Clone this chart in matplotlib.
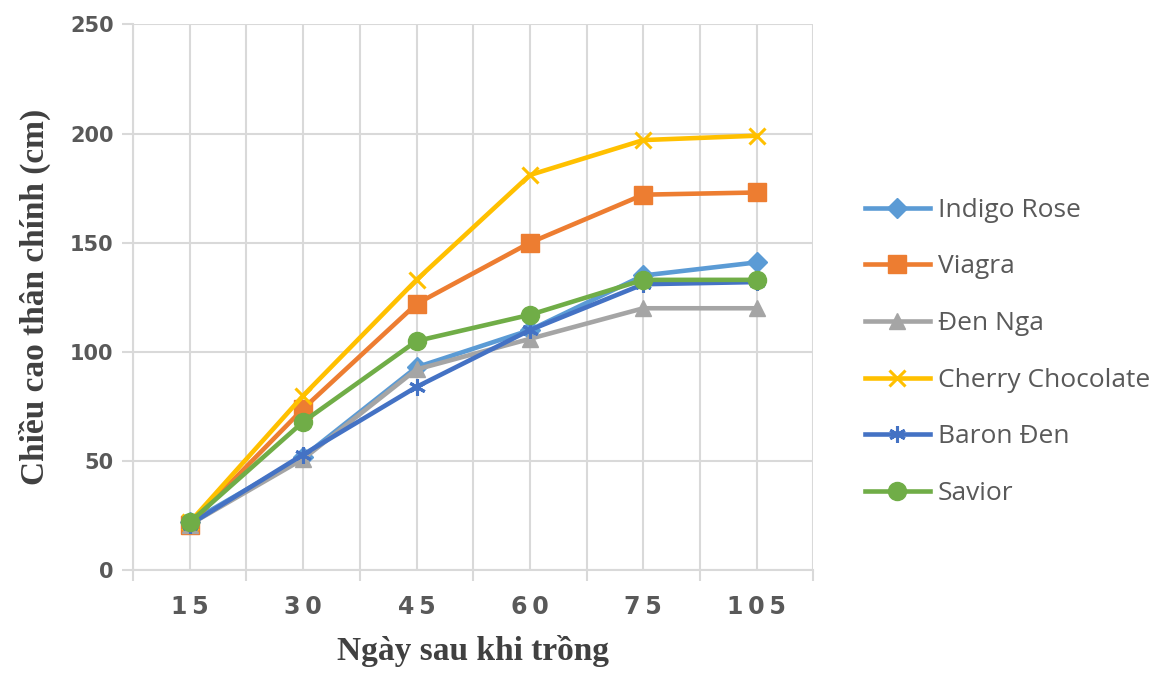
import matplotlib
matplotlib.use('Agg')
import matplotlib.pyplot as plt
import numpy as np

# Số ngày sau khi trồng (trục X dạng phân loại)
days = ['15', '30', '45', '60', '75', '105']

# Chiều cao thân chính (cm) theo giống
indigo_rose = [22, 52, 93, 110, 135, 141]
viagra = [21, 74, 122, 150, 172, 173]
den_nga = [21, 51, 92, 106, 120, 120]
cherry_chocolate = [22, 80, 133, 181, 197, 199]
baron_den = [21, 53, 84, 110, 131, 132]
savior = [22, 68, 105, 117, 133, 133]

series = [
    ('Indigo Rose', indigo_rose, '#5B9BD5', 'D', 10),
    ('Viagra', viagra, '#ED7D31', 's', 13),
    ('Đen Nga', den_nga, '#A5A5A5', '^', 12),
    ('Cherry Chocolate', cherry_chocolate, '#FFC000', 'x', 12),
    ('Baron Đen', baron_den, '#4472C4', (6, 2, 0), 12),
    ('Savior', savior, '#70AD47', 'o', 13),
]

fig = plt.figure(figsize=(11.67, 6.75), dpi=100)
ax = fig.add_axes([0.114, 0.155, 0.583, 0.809])

x = np.arange(len(days))
for name, vals, color, marker, ms in series:
    ax.plot(x, vals, color=color, linewidth=3.3, marker=marker, markersize=ms,
            markeredgewidth=2.2 if marker in ('x', (6, 2, 0)) else 1,
            markeredgecolor=color, label=name, solid_joinstyle='round')

ax.set_ylim(0, 250)
ax.set_yticks(np.arange(0, 251, 50))
ax.set_xlim(-0.5, len(days) - 0.5)
ax.set_xticks(x)
# nhãn trục X được giãn chữ
ax.set_xticklabels(['\u2009'.join(d) for d in days])
ax.set_xticks(np.arange(-0.5, len(days), 0.5), minor=True)

grid_color = '#D9D9D9'
ax.grid(True, which='both', axis='x', color=grid_color, linewidth=1.5)
ax.grid(True, which='major', axis='y', color=grid_color, linewidth=1.5)
ax.set_axisbelow(True)

for side in ('top', 'right'):
    ax.spines[side].set_visible(False)
for side in ('left', 'bottom'):
    ax.spines[side].set_color(grid_color)
    ax.spines[side].set_linewidth(1.5)

ax.tick_params(axis='y', which='major', length=8, color=grid_color, width=1.5,
               pad=6, labelsize=15, labelcolor='#595959')
ax.tick_params(axis='x', which='major', length=0, pad=18, labelsize=17,
               labelcolor='#595959')
ax.tick_params(axis='x', which='minor', length=8, color=grid_color, width=1.5)
for lbl in ax.get_yticklabels():
    lbl.set_fontweight('bold')
    lbl.set_family('DejaVu Sans')
for lbl in ax.get_xticklabels():
    lbl.set_fontweight('bold')
    lbl.set_family('DejaVu Sans')

ax.set_xlabel('Ngày sau khi trồng', family='Liberation Serif', fontweight='bold',
              fontsize=24, color='#404040', labelpad=11)
ax.set_ylabel('Chiều cao thân chính (cm)', family='Liberation Serif', fontweight='bold',
              fontsize=24, color='#404040', labelpad=14)

leg = ax.legend(loc='center left', bbox_to_anchor=(1.076, 0.40), frameon=False,
                borderpad=0, borderaxespad=0,
                handlelength=2.45, labelspacing=1.2, handletextpad=0.3,
                prop={'family': 'Open Sans', 'size': 19})
for txt in leg.get_texts():
    txt.set_color('#595959')

fig.savefig('out.png', dpi=100)
